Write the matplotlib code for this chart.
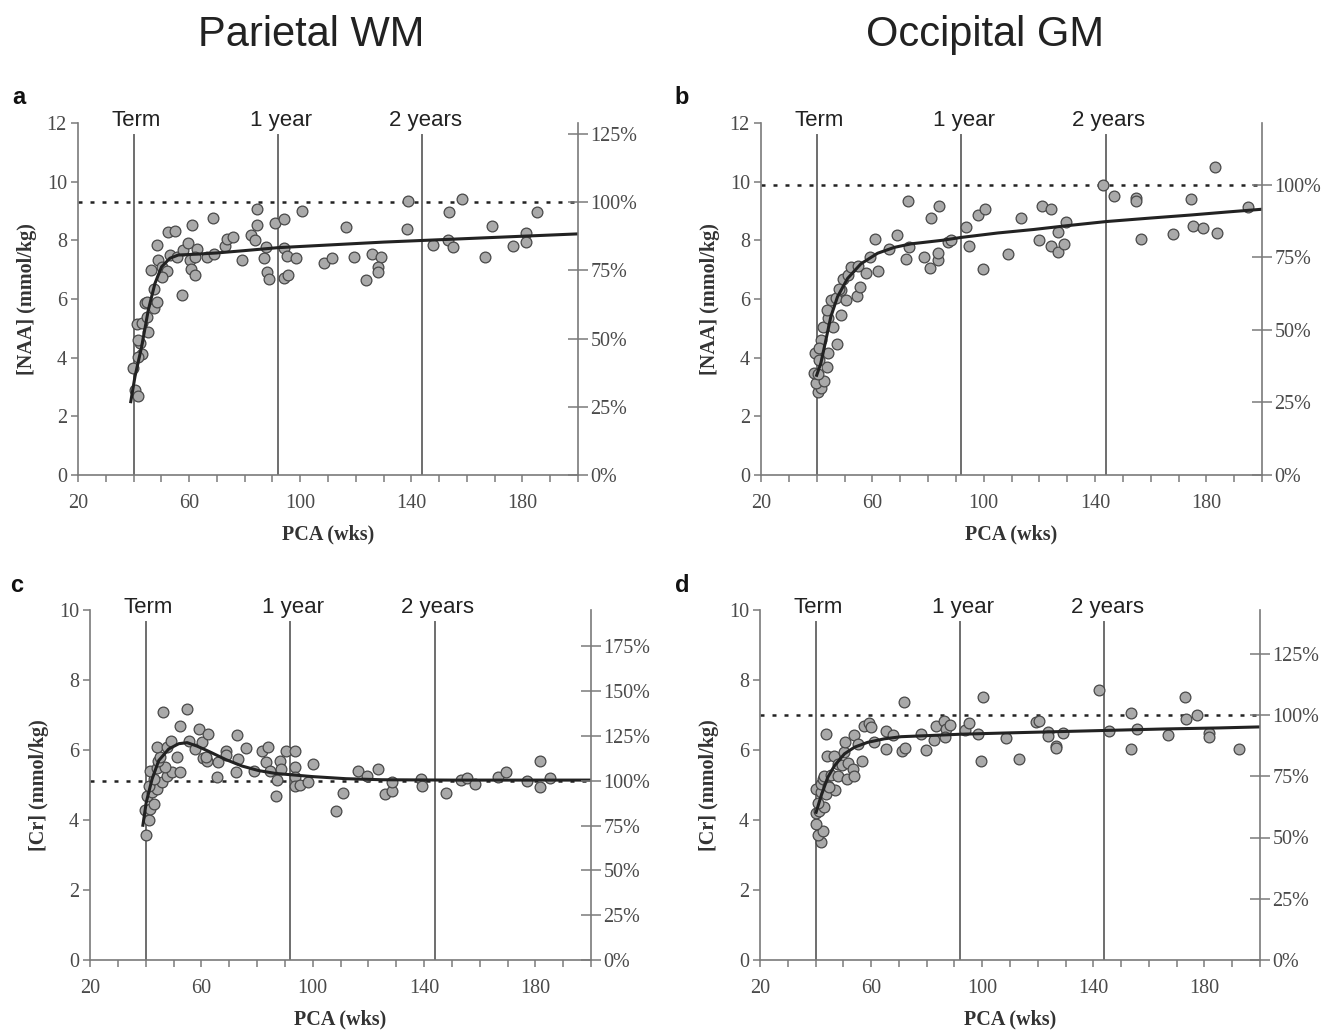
import matplotlib.pyplot as plt
from matplotlib import transforms
from matplotlib.ticker import FixedLocator, MultipleLocator

# --- a: parietal white matter, NAA
wm_naa_pca = [40.5, 41.5, 39.9, 42.9, 41.7, 42.3, 41.7, 41.4, 43.2, 45.3,
              44.7, 44.1, 44.7, 47.5, 48.3, 47.5, 46.3, 48.9, 50.1, 51.9,
              50.1, 48.3, 52.5, 54.9, 53.1, 55.5, 57.3, 57.9, 59.5, 60.9,
              60.3, 60.7, 62.1, 62.7, 62.1, 66.3, 69.1, 68.7, 73.0, 73.5,
              75.9, 79.2, 82.3, 83.7, 84.3, 84.5, 87.0, 87.9, 88.7, 87.6,
              90.8, 94.2, 100.5, 94.2, 95.1, 98.5, 94.2, 95.7, 108.5, 111.3,
              116.4, 119.3, 123.6, 126.0, 128.9, 128.1, 128.1, 138.9, 138.5, 147.7,
              153.1, 155.1, 153.6, 158.3, 166.7, 169.2, 176.7, 181.3, 181.3, 185.1]
wm_naa_conc = [2.90, 2.69, 3.64, 4.11, 4.03, 4.49, 4.60, 5.14, 5.17, 4.86,
               5.40, 5.85, 5.90, 5.70, 5.90, 6.33, 6.99, 7.33, 7.08, 6.97,
               6.76, 7.84, 8.30, 8.32, 7.50, 7.44, 6.14, 7.67, 7.90, 8.52,
               7.33, 7.01, 6.82, 7.69, 7.42, 7.44, 7.53, 8.75, 7.80, 8.05,
               8.10, 7.33, 8.18, 8.01, 8.52, 9.06, 7.39, 6.93, 6.67, 7.76,
               8.58, 8.72, 9.00, 7.73, 7.47, 7.39, 6.70, 6.82, 7.22, 7.39,
               8.44, 7.42, 6.64, 7.53, 7.42, 7.08, 6.91, 9.34, 8.39, 7.84,
               8.01, 7.78, 8.98, 9.41, 7.42, 8.49, 7.81, 8.24, 7.96, 8.95]
wm_naa_fit_pca = [39, 40.5, 42.9, 45.3, 47.7, 50.1, 53.1, 56.1, 63, 70,
                  80, 92, 110, 130, 145, 160, 180, 200]
wm_naa_fit_conc = [2.5, 3.35, 4.37, 5.62, 6.53, 7.10, 7.39, 7.50, 7.53, 7.57,
                   7.65, 7.75, 7.84, 7.94, 8.00, 8.06, 8.14, 8.22]
wm_naa_adult = 9.3

# --- b: occipital grey matter, NAA
gm_naa_pca = [40.3, 41.5, 39.7, 42.7, 39.1, 40.3, 43.6, 39.3, 40.9, 41.5,
              40.9, 43.9, 42.1, 43.9, 46.0, 47.2, 43.6, 45.1, 46.9, 48.7,
              48.9, 48.1, 50.5, 49.3, 51.1, 52.3, 55.0, 54.6, 55.7, 57.8,
              59.3, 61.0, 61.9, 65.9, 68.8, 73.3, 72.9, 72.2, 78.7, 80.6,
              80.9, 83.7, 83.7, 84.1, 87.1, 88.3, 93.7, 94.7, 98.0, 100.3,
              99.6, 108.9, 113.4, 119.9, 120.9, 124.2, 124.2, 126.8, 126.8, 129.0,
              129.5, 142.8, 146.7, 154.8, 154.8, 156.7, 168.2, 174.6, 175.3, 178.9,
              183.7, 183.2, 194.8]
gm_naa_conc = [2.84, 2.95, 3.13, 3.19, 3.49, 3.46, 3.69, 4.15, 3.91, 4.60,
               4.32, 4.15, 5.06, 5.34, 5.06, 4.46, 5.63, 5.97, 6.03, 5.45,
               6.31, 6.33, 5.97, 6.67, 6.82, 7.10, 7.13, 6.10, 6.40, 6.87,
               7.42, 8.03, 6.96, 7.69, 8.18, 7.76, 9.35, 7.35, 7.42, 7.05,
               8.75, 7.33, 7.56, 9.18, 7.96, 8.02, 8.47, 7.82, 8.86, 9.06,
               7.02, 7.53, 8.75, 8.01, 9.18, 9.07, 7.81, 8.29, 7.61, 7.87,
               8.61, 9.89, 9.52, 9.43, 9.35, 8.05, 8.22, 9.41, 8.50, 8.41,
               8.26, 10.49, 9.14]
gm_naa_fit_pca = [40, 41.5, 43.3, 45.1, 47.5, 51.1, 55.9, 61.9, 67.9, 73.9,
                  85, 92, 105, 118, 130, 144, 160, 174, 188, 200]
gm_naa_fit_conc = [3.40, 3.81, 4.60, 5.40, 6.08, 6.70, 7.20, 7.56, 7.76, 7.88,
                   8.00, 8.10, 8.25, 8.37, 8.50, 8.64, 8.76, 8.86, 8.97, 9.06]
gm_naa_adult = 9.9

# --- c: parietal white matter, Cr
wm_cr_pca = [40.2, 39.7, 41.1, 41.4, 42.9, 40.6, 42.1, 44.1, 41.1, 45.9,
             42.9, 47.7, 41.4, 44.1, 49.5, 52.5, 47.1, 44.5, 45.3, 44.1,
             47.7, 51.3, 49.2, 46.2, 54.7, 52.5, 55.5, 57.7, 59.3, 60.3,
             62.5, 60.5, 62.0, 61.7, 66.0, 65.7, 68.7, 68.7, 72.9, 73.2,
             72.3, 76.1, 78.9, 81.9, 84.1, 83.1, 84.5, 87.2, 86.9, 88.1,
             88.5, 90.5, 93.8, 93.8, 93.8, 93.5, 95.6, 98.2, 100.0, 110.9,
             108.5, 116.4, 119.5, 123.6, 126.1, 128.5, 128.5, 139.0, 139.2, 147.9,
             153.3, 155.4, 158.5, 166.5, 169.4, 177.0, 181.6, 181.6, 185.4]
wm_cr_conc = [3.57, 4.29, 4.00, 4.31, 4.45, 4.69, 4.81, 4.90, 4.98, 5.08,
              5.16, 5.25, 5.41, 5.48, 5.38, 5.38, 5.51, 5.70, 5.80, 6.08,
              6.08, 5.80, 6.25, 7.09, 7.18, 6.70, 6.26, 6.03, 6.59, 6.22,
              6.45, 5.77, 5.70, 5.80, 5.65, 5.22, 5.98, 5.86, 6.43, 5.73,
              5.38, 6.05, 5.39, 5.98, 6.08, 5.67, 5.39, 5.14, 4.69, 5.70,
              5.46, 5.96, 5.96, 5.51, 5.22, 4.98, 5.00, 5.09, 5.59, 4.77,
              4.27, 5.39, 5.25, 5.45, 4.74, 4.82, 5.08, 5.17, 4.96, 4.77,
              5.15, 5.19, 5.03, 5.22, 5.36, 5.12, 5.68, 4.93, 5.19]
wm_cr_fit_pca = [39, 40.2, 42.3, 44.7, 48.3, 51.9, 54.9, 58.5, 62.7, 68.7,
                 74.7, 80.7, 86.7, 92.6, 100, 112, 125, 150, 200]
wm_cr_fit_conc = [3.85, 4.50, 5.17, 5.70, 6.03, 6.18, 6.21, 6.11, 5.96, 5.73,
                  5.54, 5.41, 5.33, 5.29, 5.24, 5.18, 5.15, 5.14, 5.14]
wm_cr_adult = 5.12

# --- d: occipital grey matter, Cr
gm_cr_pca = [42.0, 40.8, 42.8, 40.2, 40.0, 41.4, 43.2, 40.8, 40.0, 42.0,
             41.8, 43.8, 42.6, 44.6, 43.2, 45.6, 47.0, 45.0, 44.2, 46.6,
             43.9, 48.0, 48.2, 49.4, 51.3, 51.8, 53.4, 53.8, 50.2, 50.6,
             53.8, 55.3, 56.7, 57.6, 59.2, 60.0, 61.0, 65.2, 65.2, 67.8,
             71.8, 71.1, 72.3, 78.0, 79.8, 82.6, 83.4, 86.4, 87.0, 88.5,
             86.7, 93.9, 95.3, 98.4, 100.4, 99.6, 108.5, 113.3, 119.3, 120.6,
             123.5, 123.5, 126.4, 126.4, 128.9, 141.9, 145.5, 153.6, 153.6, 155.7,
             166.7, 173.1, 173.4, 177.3, 181.5, 181.8, 192.6]
gm_cr_conc = [3.37, 3.56, 3.69, 3.88, 4.20, 4.26, 4.36, 4.50, 4.89, 4.79,
              5.03, 4.74, 5.17, 4.96, 5.26, 5.28, 4.87, 4.93, 5.82, 5.82,
              6.45, 5.26, 5.59, 5.56, 5.18, 5.63, 5.45, 5.27, 5.95, 6.23,
              6.44, 6.18, 5.70, 6.69, 6.77, 6.65, 6.23, 6.54, 6.03, 6.44,
              7.36, 5.96, 6.05, 6.47, 5.99, 6.30, 6.70, 6.82, 6.60, 6.72,
              6.37, 6.58, 6.77, 6.45, 7.52, 5.70, 6.35, 5.75, 6.80, 6.83,
              6.51, 6.40, 6.11, 6.05, 6.49, 7.71, 6.53, 7.07, 6.02, 6.59,
              6.42, 7.52, 6.90, 7.01, 6.49, 6.36, 6.02]
gm_cr_fit_pca = [40.2, 42, 44.4, 46.8, 50.4, 54, 58.8, 64.8, 70.8, 80,
                 92, 110, 130, 145, 165, 185, 200]
gm_cr_fit_conc = [4.22, 4.69, 5.22, 5.55, 5.89, 6.08, 6.22, 6.32, 6.38, 6.41,
                  6.45, 6.49, 6.53, 6.56, 6.60, 6.63, 6.66]
gm_cr_adult = 7.0

milestone_pca = [40, 92, 144]
milestone_names = ['Term', '1 year', '2 years']
xtick_major = [20, 60, 100, 140, 180]

W, H = 1326, 1033
GRAY = '#7a7a7a'
TXT = '#4a4a4a'
SERIF = 'Liberation Serif'
SANS = 'Liberation Sans'


def px_box(left, right, top, bottom):
    return [left / W, 1 - bottom / H, (right - left) / W, (bottom - top) / H]


def panel(fig, box, pca, conc, fit_pca, fit_conc, adult, ymax, pct, ylabel, letter, letter_xy):
    ax = fig.add_axes(box)
    ax.set_xlim(20, 200)
    ax.set_ylim(0, ymax)

    # term / 1 year / 2 years markers
    for x in milestone_pca:
        ax.axvline(x, ymin=0, ymax=0.965, color='#6e6e6e', lw=1.4, zorder=1)
    trans = transforms.blended_transform_factory(ax.transData, ax.transAxes)
    for x, name in zip(milestone_pca, milestone_names):
        ax.text(x + 1, 1.008, name, transform=trans, ha='center', va='center',
                fontsize=16, family=SANS, color='#222222')

    # adult reference level = 100%
    ax.axhline(adult, color='#222222', lw=1.8, linestyle=(0, (1.6, 3.2)), zorder=2)
    ax.scatter(pca, conc, s=60, facecolor='#a9a9a9', edgecolor='#484848',
               linewidths=0.9, zorder=3)
    ax.plot(fit_pca, fit_conc, color='#222222', lw=2.2, zorder=4)

    for side in ('top', 'right'):
        ax.spines[side].set_visible(False)
    for side in ('left', 'bottom'):
        ax.spines[side].set_color(GRAY)
        ax.spines[side].set_linewidth(1.2)

    ax.xaxis.set_major_locator(FixedLocator(xtick_major))
    ax.xaxis.set_minor_locator(MultipleLocator(10))
    ax.yaxis.set_major_locator(MultipleLocator(2))
    ax.tick_params(axis='x', which='both', direction='out', length=5, width=1.1,
                   color=GRAY, labelcolor=TXT, labelsize=14.5, pad=9)
    ax.tick_params(axis='y', direction='out', length=5, width=1.1,
                   color=GRAY, labelcolor=TXT, labelsize=14.5, pad=3)
    for lab in ax.get_xticklabels() + ax.get_yticklabels():
        lab.set_family(SERIF)

    ax.set_xlabel('PCA (wks)', family=SERIF, fontweight='bold', fontsize=14.5,
                  color='#333333', labelpad=8)
    ax.set_ylabel(ylabel, family=SERIF, fontweight='bold', fontsize=14.5,
                  color='#333333', labelpad=7)

    # percentage of adult value on the right
    tw = ax.twinx()
    tw.set_ylim(0, ymax)
    tw.set_yticks([adult * p / 100 for p in pct])
    tw.set_yticklabels([f'{p}%' for p in pct], family=SERIF)
    tw.tick_params(axis='y', direction='inout', length=14, width=1.1,
                   color=GRAY, labelcolor=TXT, labelsize=14.5, pad=2)
    for side in ('top', 'left', 'bottom'):
        tw.spines[side].set_visible(False)
    tw.spines['right'].set_color(GRAY)
    tw.spines['right'].set_linewidth(1.2)

    fig.text(letter_xy[0] / W, 1 - letter_xy[1] / H, letter, family=SANS,
             fontweight='bold', fontsize=17, ha='center', va='center', color='#111111')
    return ax


fig = plt.figure(figsize=(W / 100, H / 100), dpi=100)

panel(fig, px_box(78, 578, 123, 475), wm_naa_pca, wm_naa_conc,
      wm_naa_fit_pca, wm_naa_fit_conc, wm_naa_adult, 12, [0, 25, 50, 75, 100, 125],
      '[NAA] (mmol/kg)', 'a', (19, 97))
panel(fig, px_box(761, 1262, 123, 475), gm_naa_pca, gm_naa_conc,
      gm_naa_fit_pca, gm_naa_fit_conc, gm_naa_adult, 12, [0, 25, 50, 75, 100],
      '[NAA] (mmol/kg)', 'b', (682, 97))
panel(fig, px_box(90, 591, 610, 960), wm_cr_pca, wm_cr_conc,
      wm_cr_fit_pca, wm_cr_fit_conc, wm_cr_adult, 10, [0, 25, 50, 75, 100, 125, 150, 175],
      '[Cr] (mmol/kg)', 'c', (17, 585))
panel(fig, px_box(760, 1260, 610, 960), gm_cr_pca, gm_cr_conc,
      gm_cr_fit_pca, gm_cr_fit_conc, gm_cr_adult, 10, [0, 25, 50, 75, 100, 125],
      '[Cr] (mmol/kg)', 'd', (682, 585))

fig.text(311 / W, 1 - 35 / H, 'Parietal WM', family=SANS, fontsize=30,
         ha='center', va='center', color='#222222')
fig.text(985 / W, 1 - 35 / H, 'Occipital GM', family=SANS, fontsize=30,
         ha='center', va='center', color='#222222')

fig.savefig('out.png', dpi=100)
